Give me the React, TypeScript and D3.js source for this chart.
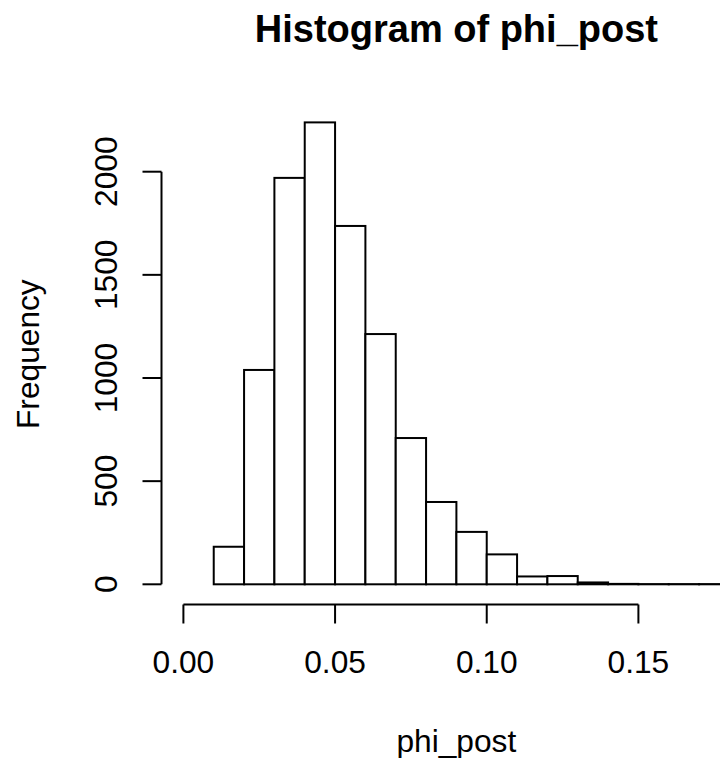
import React, { useEffect, useRef } from 'react';
import * as d3 from 'd3';

// bin edges (width 0.01) and counts
const breaks = [0, 0.01, 0.02, 0.03, 0.04, 0.05, 0.06, 0.07, 0.08, 0.09, 0.1, 0.11, 0.12, 0.13, 0.14, 0.15, 0.16, 0.17, 0.18];
const counts = [0, 182, 1039, 1970, 2239, 1737, 1213, 709, 399, 254, 145, 38, 40, 9, 2, 1, 1, 1];
const xTicks = [0, 0.05, 0.1, 0.15];
const xTickLabels = ['0.00', '0.05', '0.10', '0.15'];
const yTicks = [0, 500, 1000, 1500, 2000];

const W = 720;
const H = 758;
const FONT = '"Liberation Sans", Arial, sans-serif';

const App = () => {
    const svgRef = useRef(null);

    useEffect(() => {
        const svg = d3.select(svgRef.current);
        svg.selectAll('*').remove();

        const x = d3.scaleLinear().domain([0, 0.15]).range([183.4, 638.4]);
        const y = d3.scaleLinear().domain([0, 2000]).range([584.3, 171.7]);

        const plotLeft = 161.5;
        const plotBottom = 604.5;
        const plotTop = 103.8;
        const plotRight = x(0.1872);
        const cx = (plotLeft + plotRight) / 2;

        // bars
        const bins = counts.map((c, i) => ({ x0: breaks[i], x1: breaks[i + 1], c }));
        svg.append('g')
            .selectAll('rect')
            .data(bins)
            .enter()
            .append('rect')
            .attr('x', (d) => x(d.x0))
            .attr('width', (d) => x(d.x1) - x(d.x0))
            .attr('y', (d) => y(d.c))
            .attr('height', (d) => y(0) - y(d.c))
            .style('fill', 'white')
            .style('stroke', 'black')
            .style('stroke-width', 2);

        // x axis
        const gx = svg.append('g');
        gx.append('line')
            .attr('x1', x(xTicks[0]))
            .attr('x2', x(xTicks[xTicks.length - 1]))
            .attr('y1', plotBottom)
            .attr('y2', plotBottom)
            .style('stroke', 'black')
            .style('stroke-width', 2);
        gx.selectAll('line.tick')
            .data(xTicks)
            .enter()
            .append('line')
            .attr('class', 'tick')
            .attr('x1', (d) => x(d))
            .attr('x2', (d) => x(d))
            .attr('y1', plotBottom)
            .attr('y2', plotBottom + 19)
            .style('stroke', 'black')
            .style('stroke-width', 2);
        gx.selectAll('text')
            .data(xTicks)
            .enter()
            .append('text')
            .attr('x', (d) => x(d))
            .attr('y', 672.7)
            .attr('text-anchor', 'middle')
            .style('font-family', FONT)
            .style('font-size', '31.7px')
            .style('fill', 'black')
            .text((d, i) => xTickLabels[i]);

        // y axis
        const gy = svg.append('g');
        gy.append('line')
            .attr('x1', plotLeft)
            .attr('x2', plotLeft)
            .attr('y1', y(yTicks[0]))
            .attr('y2', y(yTicks[yTicks.length - 1]))
            .style('stroke', 'black')
            .style('stroke-width', 2);
        gy.selectAll('line.tick')
            .data(yTicks)
            .enter()
            .append('line')
            .attr('class', 'tick')
            .attr('x1', plotLeft)
            .attr('x2', plotLeft - 19)
            .attr('y1', (d) => y(d))
            .attr('y2', (d) => y(d))
            .style('stroke', 'black')
            .style('stroke-width', 2);
        gy.selectAll('text')
            .data(yTicks)
            .enter()
            .append('text')
            .attr('transform', (d) => `translate(116.7, ${y(d)}) rotate(-90)`)
            .attr('text-anchor', 'middle')
            .style('font-family', FONT)
            .style('font-size', '31.7px')
            .style('fill', 'black')
            .text((d) => String(d));

        // titles
        svg.append('text')
            .attr('x', cx)
            .attr('y', 41.7)
            .attr('text-anchor', 'middle')
            .style('font-family', FONT)
            .style('font-weight', 'bold')
            .style('font-size', '38px')
            .style('fill', 'black')
            .text('Histogram of phi_post');

        svg.append('text')
            .attr('x', cx)
            .attr('y', 751.7)
            .attr('text-anchor', 'middle')
            .style('font-family', FONT)
            .style('font-size', '31.7px')
            .style('fill', 'black')
            .text('phi_post');

        svg.append('text')
            .attr('transform', `translate(38.5, ${(plotTop + plotBottom) / 2}) rotate(-90)`)
            .attr('text-anchor', 'middle')
            .style('font-family', FONT)
            .style('font-size', '31.7px')
            .style('fill', 'black')
            .text('Frequency');
    }, []);

    return (
        <svg
            ref={svgRef}
            width={W}
            height={H}
            style={{ position: 'absolute', left: 0, top: 0, background: 'white' }}
        />
    );
};

export default App;
